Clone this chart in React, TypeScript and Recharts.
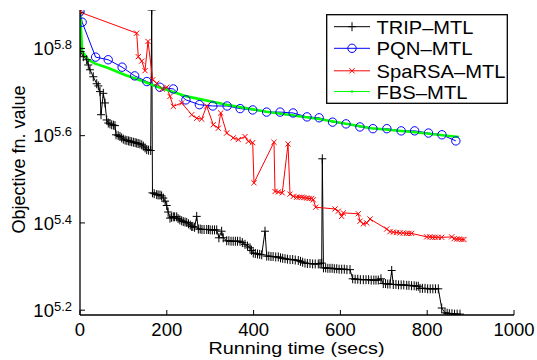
import { LineChart, Line, XAxis, YAxis } from 'recharts'

const FONT = "'Liberation Sans', Arial, Helvetica, sans-serif"

// [running time (secs), log10 of objective fn. value]
const tripMtl: [number, number][] = [
  [0, 5.883], [1.6, 5.793], [7.6, 5.781], [15.4, 5.774], [19.1, 5.762], [23, 5.751], [30.6, 5.735],
  [38.5, 5.719], [42.2, 5.714], [46.1, 5.701], [48.4, 5.648], [53.7, 5.697], [57.6, 5.675], [61.5, 5.636],
  [65.2, 5.629], [69, 5.627], [73, 5.625], [77, 5.624], [80.6, 5.623], [83, 5.602], [88, 5.6], [92.2, 5.598],
  [96, 5.595], [99.8, 5.592], [104, 5.59], [108, 5.589], [112, 5.588], [115.2, 5.587], [119, 5.586],
  [123, 5.585], [127, 5.584], [130.6, 5.583], [134, 5.582], [138, 5.581], [142.2, 5.579], [146, 5.576],
  [150, 5.572], [153.7, 5.568], [158, 5.567], [162.9, 5.566], [165.2, 5.888],
  [167, 5.469], [171, 5.467], [176.7, 5.465], [180, 5.464], [184.3, 5.464], [188, 5.462], [192, 5.457],
  [196, 5.45], [199.8, 5.44], [203, 5.425], [207.4, 5.411], [211, 5.413], [215, 5.414], [218, 5.414],
  [222.8, 5.414], [226, 5.41], [230, 5.407], [234.3, 5.405], [238, 5.403], [242, 5.402], [245.9, 5.401],
  [250, 5.398], [254, 5.395], [257.4, 5.392], [260, 5.392], [264, 5.39], [268.9, 5.415], [272.6, 5.386],
  [277, 5.386], [281, 5.385], [286, 5.385], [291.9, 5.385], [296, 5.385], [300, 5.384], [305, 5.384],
  [310, 5.384], [315, 5.384], [320, 5.366], [326.3, 5.381], [330, 5.366], [338, 5.359], [343, 5.359],
  [348, 5.358], [353, 5.358], [358, 5.358], [363, 5.358], [368.7, 5.358], [374, 5.355], [380.2, 5.351],
  [386, 5.347], [391.7, 5.343], [395, 5.337], [399.3, 5.331], [404, 5.33], [409, 5.329], [414, 5.328],
  [418.7, 5.327], [426.3, 5.381], [430.2, 5.324], [435, 5.324], [440, 5.323], [445, 5.323], [451, 5.322],
  [456.9, 5.322], [462, 5.32], [467, 5.319], [472.4, 5.318], [478, 5.317], [484, 5.316], [490, 5.316],
  [496, 5.315], [503, 5.314], [508, 5.312], [513, 5.31], [518.4, 5.308], [524, 5.307], [530, 5.307],
  [536, 5.306], [542, 5.306], [549.1, 5.306], [553, 5.307], [556.9, 5.308], [558.3, 5.547], [561, 5.297],
  [566, 5.297], [571, 5.296], [576, 5.296], [581, 5.296], [586, 5.295], [591.5, 5.295], [597, 5.294],
  [603, 5.294], [609, 5.294], [615, 5.293], [622.1, 5.293], [628.3, 5.272], [634, 5.271], [640, 5.271],
  [646, 5.27], [652.8, 5.27], [659, 5.27], [665, 5.27], [671, 5.269], [677, 5.269], [682, 5.269],
  [687.3, 5.269], [693.5, 5.272], [698.8, 5.261], [704, 5.261], [709, 5.26], [714.3, 5.26], [718.2, 5.291],
  [721.9, 5.259], [728, 5.259], [734, 5.258], [740, 5.258], [746, 5.258], [752.8, 5.257], [758, 5.257],
  [764, 5.256], [770, 5.256], [775, 5.255], [779.5, 5.255], [783.4, 5.25], [789, 5.25], [795, 5.25],
  [801, 5.249], [807, 5.249], [813, 5.249], [819, 5.249], [825.6, 5.249], [833.4, 5.205], [841, 5.194],
  [846, 5.193], [851, 5.192], [857, 5.192], [863, 5.191], [869, 5.191], [875.6, 5.191],
]

const pqnMtl: [number, number][] = [
  [0, 5.884], [5, 5.86], [36, 5.78], [65, 5.774], [97, 5.757], [126, 5.737], [154, 5.724], [184, 5.711],
  [215, 5.707], [244, 5.682], [275, 5.671], [306, 5.668], [339, 5.668], [369, 5.662], [398, 5.659],
  [430, 5.654], [461, 5.654], [491, 5.652], [523, 5.643], [551, 5.641], [582, 5.631], [613, 5.627],
  [645, 5.62], [675, 5.616], [707, 5.616], [740, 5.611], [771, 5.611], [803, 5.606], [834, 5.602],
  [866, 5.588],
]

const sparsaMtl: [number, number][] = [
  [0, 5.883], [130.6, 5.835], [134.3, 5.781], [142.2, 5.771], [149.8, 5.749], [156.7, 5.816], [167.5, 5.728],
  [176.7, 5.72], [189.6, 5.707], [199.8, 5.711], [207.4, 5.69], [215, 5.667], [234.3, 5.675], [257.4, 5.648],
  [268.9, 5.64], [280.4, 5.638], [291.9, 5.668], [307.1, 5.625], [318.7, 5.617], [324.2, 5.652], [338, 5.606],
  [353.2, 5.595], [364.7, 5.591], [380.2, 5.598], [387.8, 5.587], [397.9, 5.584], [400.9, 5.492], [447, 5.585],
  [449.3, 5.472], [456.9, 5.471], [466.1, 5.469], [479.3, 5.581], [483.9, 5.466], [491.5, 5.461],
  [499.3, 5.459], [505, 5.459], [510.8, 5.459], [516, 5.458], [522.4, 5.457], [528, 5.456], [533.9, 5.456],
  [537.6, 5.453], [543.1, 5.436], [587.6, 5.432], [595.2, 5.427], [603, 5.415], [606.7, 5.423],
  [641.2, 5.421], [645.2, 5.404], [652.8, 5.398], [660.6, 5.4], [668.2, 5.409], [706.7, 5.386],
  [714.3, 5.38], [722, 5.379], [729.7, 5.378], [737, 5.377], [744.9, 5.377], [752, 5.376], [758, 5.376],
  [764.3, 5.376], [798.8, 5.368], [806, 5.368], [812, 5.367], [818, 5.367], [825, 5.367], [833.4, 5.367],
  [856.5, 5.368], [862, 5.364], [868, 5.363], [874, 5.363], [880, 5.362], [884.8, 5.362],
]

const fbsMtl: [number, number][] = [
  [0, 5.884], [5, 5.793], [19, 5.774], [35, 5.765], [65, 5.755], [104, 5.739], [142, 5.726], [173, 5.714],
  [246, 5.69], [338, 5.671], [430, 5.655], [551, 5.638], [672, 5.617], [772, 5.608], [873, 5.597],
]

const xTicks = [0, 200, 400, 600, 800, 1000]
const yTickExps = [5.2, 5.4, 5.6, 5.8]
const yTicks = yTickExps.map((e) => 10 ** e)
const yDomain = [10 ** 5.189, 10 ** 5.888]

const toRows = (pts: [number, number][]) => pts.map(([t, lg]) => ({ t, v: 10 ** lg }))

type Kind = 'plus' | 'circle' | 'cross' | 'dot'

const series: {
  name: string
  rows: { t: number; v: number }[]
  color: string
  kind: Kind
  width: number
  textWidth: number
}[] = [
  { name: 'TRIP–MTL', rows: toRows(tripMtl), color: '#000000', kind: 'plus', width: 1, textWidth: 97 },
  { name: 'PQN–MTL', rows: toRows(pqnMtl), color: '#0000ff', kind: 'circle', width: 1, textWidth: 96 },
  { name: 'SpaRSA–MTL', rows: toRows(sparsaMtl), color: '#ff0000', kind: 'cross', width: 1, textWidth: 129 },
  { name: 'FBS–MTL', rows: toRows(fbsMtl), color: '#00ff00', kind: 'dot', width: 2.6, textWidth: 91 },
]

function Marker({ kind, cx, cy, color }: { kind: Kind; cx: number; cy: number; color: string }) {
  if (kind === 'plus')
    return <path d={`M${cx - 4},${cy}H${cx + 4}M${cx},${cy - 4.5}V${cy + 4.5}`} stroke={color} strokeWidth={1} fill="none" />
  if (kind === 'circle') return <circle cx={cx} cy={cy} r={4.2} stroke={color} strokeWidth={1} fill="none" />
  if (kind === 'cross')
    return (
      <path
        d={`M${cx - 2.6},${cy - 2.6}L${cx + 2.6},${cy + 2.6}M${cx - 2.6},${cy + 2.6}L${cx + 2.6},${cy - 2.6}`}
        stroke={color}
        strokeWidth={1}
        fill="none"
      />
    )
  return <circle cx={cx} cy={cy} r={1.3} fill={color} />
}

function XTickBottom({ x, y, payload }: any) {
  return (
    <g>
      <line x1={x} y1={y} x2={x} y2={y - 5} stroke="#000" />
      <text x={x} y={y + 20.5} textAnchor="middle" fontSize={18.5} fontFamily={FONT} fill="#000">
        {payload.value}
      </text>
    </g>
  )
}

function XTickTop({ x, y }: any) {
  return <line x1={x} y1={y} x2={x} y2={y + 5} stroke="#000" />
}

function YTickLeft({ x, y, payload }: any) {
  const exp = Math.log10(payload.value).toFixed(1)
  return (
    <g>
      <line x1={x} y1={y} x2={x + 5} y2={y} stroke="#000" />
      <text x={x - 8} y={y + 6.8} textAnchor="end" fontSize={18.5} fontFamily={FONT} fill="#000">
        10
        <tspan dy={-6} fontSize={13}>
          {exp}
        </tspan>
      </text>
    </g>
  )
}

function YTickRight({ x, y }: any) {
  return <line x1={x} y1={y} x2={x - 5} y2={y} stroke="#000" />
}

// axis titles and the legend box, laid over the chart
function Overlay() {
  const rowsY = [12.7, 34.3, 56.8, 77.5]
  return (
    <svg width={537} height={360} style={{ position: 'absolute', left: 0, top: 0, pointerEvents: 'none' }}>
      <text
        x={208.5}
        y={354}
        fontSize={17}
        fontFamily={FONT}
        fill="#000"
        textLength={176}
        lengthAdjust="spacingAndGlyphs"
      >
        Running time (secs)
      </text>
      <text
        x={-233.5}
        y={24.5}
        transform="rotate(-90)"
        fontSize={17.5}
        fontFamily={FONT}
        fill="#000"
        textLength={148}
        lengthAdjust="spacingAndGlyphs"
      >
        Objective fn. value
      </text>
      <g transform="translate(326,14)">
        <rect x={0.7} y={0.7} width={180.6} height={88.6} fill="#fff" stroke="#000" strokeWidth={1.3} />
        {series.map((s, i) => (
          <g key={s.name}>
            <line x1={8} y1={rowsY[i]} x2={44} y2={rowsY[i]} stroke={s.color} strokeWidth={s.kind === 'dot' ? 1.2 : 1} />
            <Marker kind={s.kind} cx={26} cy={rowsY[i]} color={s.color} />
            <text
              x={50.5}
              y={rowsY[i] + 7}
              fontSize={18.5}
              fontFamily={FONT}
              fill="#000"
              textLength={s.textWidth}
              lengthAdjust="spacingAndGlyphs"
            >
              {s.name}
            </text>
          </g>
        ))}
      </g>
    </svg>
  )
}

export default function App() {
  const axisStroke = { stroke: '#000', strokeWidth: 1.3 }
  return (
    <div style={{ position: 'absolute', left: 0, top: 0, width: 537, height: 360, background: '#fff' }}>
      <LineChart width={537} height={360} margin={{ top: 10, right: 23, bottom: 0, left: 0 }}>
        <XAxis
          dataKey="t"
          type="number"
          domain={[0, 1000]}
          ticks={xTicks}
          allowDataOverflow
          height={45}
          tickSize={0}
          tickMargin={0}
          tickLine={false}
          axisLine={axisStroke}
          tick={<XTickBottom />}
        />
        <XAxis
          xAxisId="top"
          orientation="top"
          dataKey="t"
          type="number"
          domain={[0, 1000]}
          ticks={xTicks}
          allowDataOverflow
          height={0}
          tickSize={0}
          tickMargin={0}
          tickLine={false}
          axisLine={axisStroke}
          tick={<XTickTop />}
        />
        <YAxis
          scale="log"
          type="number"
          domain={yDomain}
          ticks={yTicks}
          allowDataOverflow
          width={80}
          tickSize={0}
          tickMargin={0}
          tickLine={false}
          axisLine={axisStroke}
          tick={<YTickLeft />}
        />
        <YAxis
          yAxisId="right"
          orientation="right"
          scale="log"
          type="number"
          domain={yDomain}
          ticks={yTicks}
          allowDataOverflow
          width={0}
          tickSize={0}
          tickMargin={0}
          tickLine={false}
          axisLine={axisStroke}
          tick={<YTickRight />}
        />
        {series.map((s) => (
          <Line
            key={s.name}
            data={s.rows}
            dataKey="v"
            type="linear"
            stroke={s.color}
            strokeWidth={s.width}
            dot={
              s.kind === 'dot'
                ? false
                : (p: any) => <Marker key={p.index} kind={s.kind} cx={p.cx} cy={p.cy} color={s.color} />
            }
            activeDot={false}
            isAnimationActive={false}
          />
        ))}
      </LineChart>
      <Overlay />
    </div>
  )
}
